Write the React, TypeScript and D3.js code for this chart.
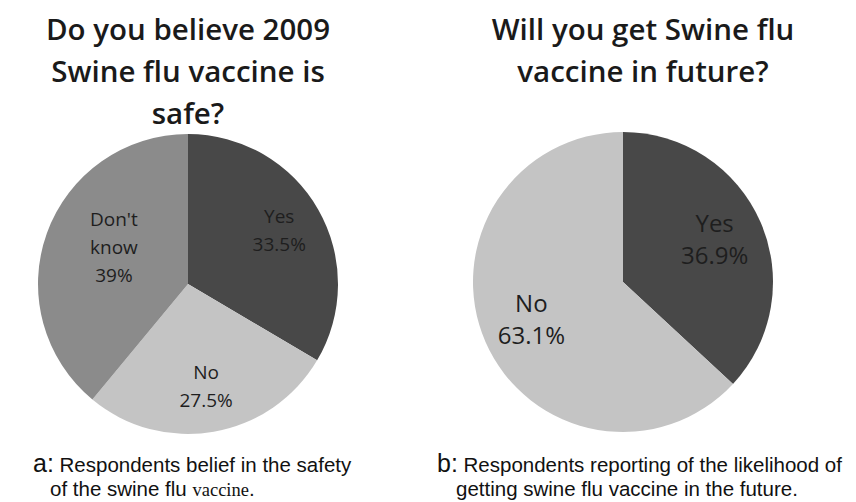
import * as d3 from 'd3';

// two survey pies, excel-ish look
const W = 856;
const H = 502;
const R = 150;

const safetyLabels = ['Yes', 'No', "Don't know"];
const safetyValues = [33.5, 27.5, 39];
const safetyColors = ['#484848', '#c4c4c4', '#8b8b8b'];

const futureLabels = ['Yes', 'No'];
const futureValues = [36.9, 63.1];
const futureColors = ['#484848', '#c4c4c4'];

const titleA = ['Do you believe 2009', 'Swine flu vaccine is', 'safe?'];
const titleB = ['Will you get Swine flu', 'vaccine in future?'];

const TITLE_FONT = "'Open Sans', 'Noto Sans', sans-serif";

type PieProps = {
    cx: number;
    cy: number;
    labels: string[];
    values: number[];
    colors: string[];
    fontSize: number;
    lineGap: number;
    labelRadius: number;
};

const Pie = ({ cx, cy, labels, values, colors, fontSize, lineGap, labelRadius }: PieProps) => {
    const pie = d3.pie<number>().sort(null).value((d) => d);
    const arcs = pie(values);
    const arcGen = d3.arc<d3.PieArcDatum<number>>().innerRadius(0).outerRadius(R);
    const labelArc = d3.arc<d3.PieArcDatum<number>>().innerRadius(labelRadius).outerRadius(labelRadius);

    return (
        <g transform={`translate(${cx},${cy})`}>
            {arcs.map((a, i) => (
                <path key={i} d={arcGen(a) || ''} fill={colors[i]} />
            ))}
            {arcs.map((a, i) => {
                let [x, y] = labelArc.centroid(a);
                // excel pulls the wide left label a bit towards the middle
                if (x < 0 && labels[i].includes(' ')) x *= 0.75;
                // "Don't know" gets split over two lines like the original
                const lines = labels[i].split(' ').concat([`${values[i]}%`]);
                const top = y - ((lines.length - 1) * lineGap) / 2;
                return (
                    <text
                        key={i}
                        textAnchor="middle"
                        fontFamily={TITLE_FONT}
                        fontSize={fontSize}
                        fill="#1e1e1e"
                    >
                        {lines.map((l, j) => (
                            <tspan key={j} x={x} y={top + j * lineGap} dominantBaseline="middle">
                                {l}
                            </tspan>
                        ))}
                    </text>
                );
            })}
        </g>
    );
};

const Title = ({ x, y, lines, gap }: { x: number; y: number; lines: string[]; gap: number }) => (
    <text textAnchor="middle" fontFamily={TITLE_FONT} fontSize={29.5} fontWeight={600} fill="#1a1a1a">
        {lines.map((l, i) => (
            <tspan key={i} x={x} y={y + i * gap}>
                {l}
            </tspan>
        ))}
    </text>
);

export default function App() {
    return (
        <svg width={W} height={H} style={{ position: 'absolute', left: 0, top: 0, background: '#fff' }}>
            <Title x={188} y={40} lines={titleA} gap={42} />
            <Title x={643} y={40} lines={titleB} gap={42} />

            <Pie
                cx={188}
                cy={284}
                labels={safetyLabels}
                values={safetyValues}
                colors={safetyColors}
                fontSize={19}
                lineGap={28}
                labelRadius={105}
            />
            <Pie
                cx={623}
                cy={282}
                labels={futureLabels}
                values={futureValues}
                colors={futureColors}
                fontSize={24}
                lineGap={32}
                labelRadius={100}
            />

            <g fontFamily="'Liberation Sans', Arial, sans-serif" fill="#111">
                <text x={33} y={472} fontSize={20.5}>
                    <tspan fontSize={25}>a:</tspan> Respondents belief in the safety
                </text>
                <text x={50} y={496} fontSize={20.5}>
                    of the swine flu <tspan fontFamily="'Liberation Serif', 'Times New Roman', serif" fontSize={18.5}>vaccine</tspan>.
                </text>
                <text x={437} y={472} fontSize={20.5}>
                    <tspan fontSize={25}>b:</tspan> Respondents reporting of the likelihood of
                </text>
                <text x={456} y={496} fontSize={20.5}>
                    getting swine flu vaccine in the future.
                </text>
            </g>
        </svg>
    );
}
